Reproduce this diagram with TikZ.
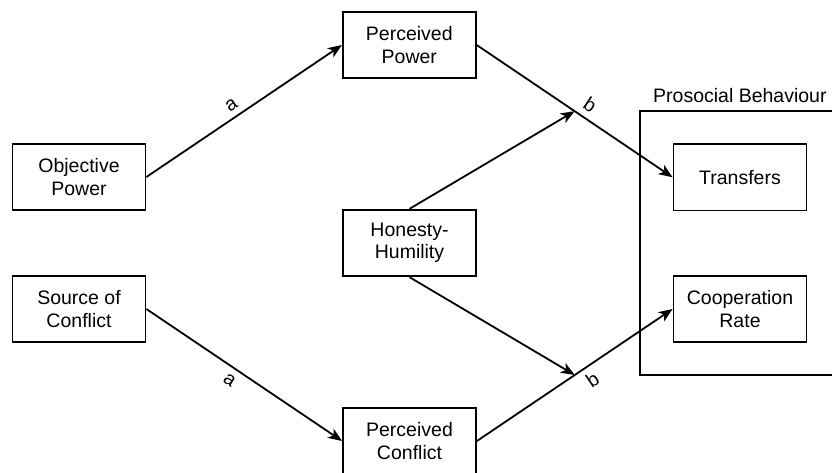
\documentclass[tikz,border=0pt]{standalone}
\usepackage{fontspec}
\setmainfont{Liberation Sans}
\usetikzlibrary{arrows.meta,calc}
\begin{document}
\begin{tikzpicture}[x=1pt,y=-1pt,
  box/.style={draw,line width=1.8pt,minimum width=133pt,minimum height=66.5pt,inner sep=0pt,align=center,font=\fontsize{19.5}{22.5}\selectfont},
  arr/.style={line width=1.8pt,-{Stealth[length=14pt,width=11pt,inset=4pt]}},
  lab/.style={font=\fontsize{19.5}{22.5}\selectfont,sloped,inner sep=6pt}]
\useasboundingbox (0,0) rectangle (832,472);
\clip (0,0) rectangle (832,472);
\node[box] (op) at (79,177) {Objective\\Power};
\node[box] (pp) at (409.3,45) {Perceived\\Power};
\node[box] (hh) at (409.5,243) {Honesty-\\Humility};
\node[box] (sc) at (79,309) {Source of\\Conflict};
\node[box] (pc) at (409.5,441) {Perceived\\Conflict};
\node[box] (tr) at (740,177.3) {Transfers};
\node[box] (cr) at (740,309) {Cooperation\\Rate};
\draw[line width=1.8pt] (640,111) rectangle (850,375);
\node[anchor=base west,font=\fontsize{19.5}{22.5}\selectfont,inner sep=0pt] (pb) at (653,102) {Prosocial Behaviour};
\coordinate (m1) at ($(pp.east)!0.5!(tr.west)$);
\coordinate (m2) at ($(pc.east)!0.5!(cr.west)$);
\draw[arr] (op.east) -- node[lab,above,pos=0.47] {a} (pp.west);
\draw[arr] (sc.east) -- node[lab,below,pos=0.46] {a} (pc.west);
\draw[arr] (pp.east) -- node[lab,above,pos=0.54] {b} (tr.west);
\draw[arr] (pc.east) -- node[lab,below,pos=0.55] {b} (cr.west);
\draw[arr] (hh.north) -- (m1);
\draw[arr] (hh.south) -- (m2);
\end{tikzpicture}
\end{document}
